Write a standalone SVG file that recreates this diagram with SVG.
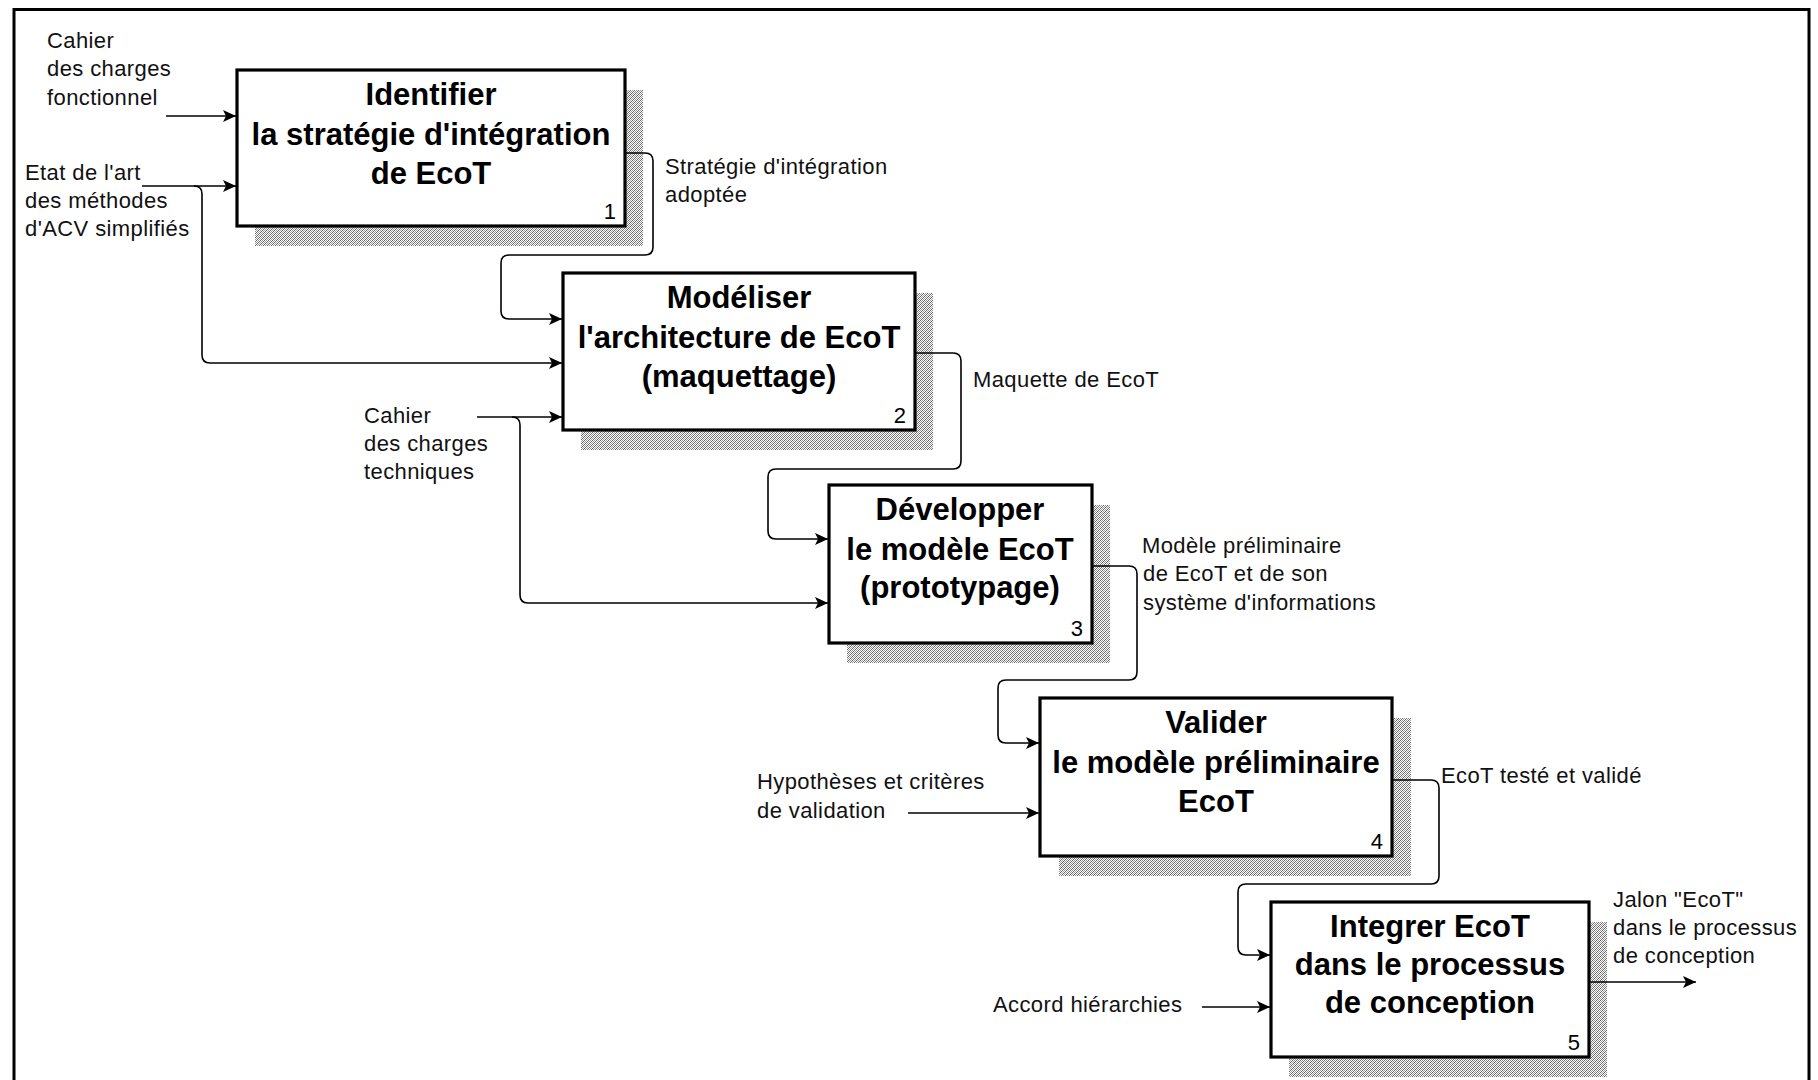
<svg xmlns="http://www.w3.org/2000/svg" width="1818" height="1080" viewBox="0 0 1818 1080">
<defs>
<pattern id="dots" width="4" height="4" patternUnits="userSpaceOnUse">
<rect width="4" height="4" fill="#fff"/>
<rect x="0" y="0" width="1" height="1" fill="#666"/>
<rect x="2" y="0" width="1" height="1" fill="#999"/>
<rect x="1" y="1" width="1" height="1" fill="#999"/>
<rect x="3" y="1" width="1" height="1" fill="#666"/>
<rect x="0" y="2" width="1" height="1" fill="#999"/>
<rect x="2" y="2" width="1" height="1" fill="#666"/>
<rect x="1" y="3" width="1" height="1" fill="#666"/>
<rect x="3" y="3" width="1" height="1" fill="#999"/>
</pattern>
<marker id="arr" markerWidth="15" markerHeight="14" refX="13" refY="7" orient="auto" markerUnits="userSpaceOnUse">
<path d="M0,1 L13,7 L0,13 L3,7 Z" fill="#000"/>
</marker>
<style>
.box{fill:#fff;stroke:#000;stroke-width:3.2}
.shadow{fill:url(#dots)}
.title{font-family:"Liberation Sans",Arial,sans-serif;font-weight:bold;font-size:31px;text-anchor:middle;fill:#000}
.num{font-family:"Liberation Sans",Arial,sans-serif;font-size:22px;text-anchor:end;fill:#000}
.lbl{font-family:"Liberation Sans",Arial,sans-serif;font-size:22px;letter-spacing:0.4px;fill:#111}
.con{fill:none;stroke:#000;stroke-width:1.6}
.frame{fill:none;stroke:#000;stroke-width:3}
</style>
</defs>
<rect width="1818" height="1080" fill="#fff"/>
<path class="frame" d="M14,1082 V9.5 H1809 V1082"/>

<g id="node1">
<rect class="shadow" x="255" y="90" width="388" height="156"/>
<rect class="box" x="237" y="70" width="388" height="156"/>
<text class="title" x="431" y="105">Identifier</text>
<text class="title" x="431" y="145">la stratégie d'intégration</text>
<text class="title" x="431" y="184">de EcoT</text>
<text class="num" x="616" y="219">1</text>
</g>
<g id="node2">
<rect class="shadow" x="581" y="293" width="352" height="157"/>
<rect class="box" x="563" y="273" width="352" height="157"/>
<text class="title" x="739" y="308">Modéliser</text>
<text class="title" x="739" y="348">l'architecture de EcoT</text>
<text class="title" x="739" y="387">(maquettage)</text>
<text class="num" x="906" y="423">2</text>
</g>
<g id="node3">
<rect class="shadow" x="847" y="505" width="263" height="158"/>
<rect class="box" x="829" y="485" width="263" height="158"/>
<text class="title" x="960" y="520">Développer</text>
<text class="title" x="960" y="560">le modèle EcoT</text>
<text class="title" x="960" y="598">(prototypage)</text>
<text class="num" x="1083" y="636">3</text>
</g>
<g id="node4">
<rect class="shadow" x="1059" y="718" width="352" height="158"/>
<rect class="box" x="1040" y="698" width="352" height="158"/>
<text class="title" x="1216" y="733">Valider</text>
<text class="title" x="1216" y="773">le modèle préliminaire</text>
<text class="title" x="1216" y="812">EcoT</text>
<text class="num" x="1383" y="849">4</text>
</g>
<g id="node5">
<rect class="shadow" x="1289" y="922" width="318" height="155"/>
<rect class="box" x="1271" y="902" width="318" height="155"/>
<text class="title" x="1430" y="937">Integrer EcoT</text>
<text class="title" x="1430" y="975">dans le processus</text>
<text class="title" x="1430" y="1013">de conception</text>
<text class="num" x="1580" y="1050">5</text>
</g>

<g id="connectors">
<path class="con" marker-end="url(#arr)" d="M166,116 H236"/>
<path class="con" marker-end="url(#arr)" d="M142,186 H236"/>
<path class="con" marker-end="url(#arr)" d="M194,186 Q202,186 202,194 V355 Q202,363 210,363 H562"/>
<path class="con" marker-end="url(#arr)" d="M625,153 H645 Q653,153 653,161 V247 Q653,255 645,255 H509 Q501,255 501,263 V311 Q501,319 509,319 H562"/>
<path class="con" marker-end="url(#arr)" d="M477,417 H562"/>
<path class="con" marker-end="url(#arr)" d="M512,417 Q520,417 520,425 V595 Q520,603 528,603 H828"/>
<path class="con" marker-end="url(#arr)" d="M915,353 H953 Q961,353 961,361 V461 Q961,469 953,469 H776 Q768,469 768,477 V531 Q768,539 776,539 H828"/>
<path class="con" marker-end="url(#arr)" d="M1092,566 H1129 Q1137,566 1137,574 V672 Q1137,680 1129,680 H1006 Q998,680 998,688 V735 Q998,743 1006,743 H1039"/>
<path class="con" marker-end="url(#arr)" d="M908,813 H1039"/>
<path class="con" marker-end="url(#arr)" d="M1392,780 H1431 Q1439,780 1439,788 V876 Q1439,884 1431,884 H1246 Q1238,884 1238,892 V947 Q1238,955 1246,955 H1270"/>
<path class="con" marker-end="url(#arr)" d="M1202,1007 H1270"/>
<path class="con" marker-end="url(#arr)" d="M1589,982 H1696"/>
</g>

<g id="labels">
<text class="lbl" x="47" y="48">Cahier</text>
<text class="lbl" x="47" y="76">des charges</text>
<text class="lbl" x="47" y="105">fonctionnel</text>
<text class="lbl" x="25" y="180">Etat de l'art</text>
<text class="lbl" x="25" y="208">des méthodes</text>
<text class="lbl" x="25" y="236">d'ACV simplifiés</text>
<text class="lbl" x="665" y="174">Stratégie d'intégration</text>
<text class="lbl" x="665" y="202">adoptée</text>
<text class="lbl" x="364" y="423">Cahier</text>
<text class="lbl" x="364" y="451">des charges</text>
<text class="lbl" x="364" y="479">techniques</text>
<text class="lbl" x="973" y="387">Maquette de EcoT</text>
<text class="lbl" x="1142" y="553">Modèle préliminaire</text>
<text class="lbl" x="1143" y="581">de EcoT et de son</text>
<text class="lbl" x="1143" y="610">système d'informations</text>
<text class="lbl" x="757" y="789">Hypothèses et critères</text>
<text class="lbl" x="757" y="818">de validation</text>
<text class="lbl" x="1441" y="783">EcoT testé et validé</text>
<text class="lbl" x="993" y="1012">Accord hiérarchies</text>
<text class="lbl" x="1613" y="907">Jalon "EcoT"</text>
<text class="lbl" x="1613" y="935">dans le processus</text>
<text class="lbl" x="1613" y="963">de conception</text>
</g>
</svg>
